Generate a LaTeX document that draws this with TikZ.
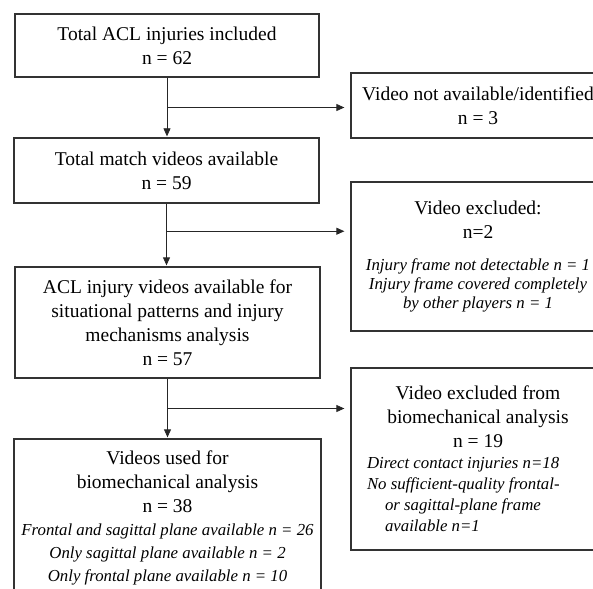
\documentclass[tikz,border=0pt]{standalone}
\usepackage{fontspec}
\setmainfont{Liberation Serif}
\usetikzlibrary{calc,arrows.meta}

\newcommand{\ital}{\itshape\fontsize{16.8}{21}\selectfont}

\tikzset{
	box/.style = {draw=black!80, line width=1.3pt, inner sep=2pt, align=center, font=\fontsize{19.5}{24}\selectfont},
	arr/.style = {-{Triangle[length=8pt,width=7pt]}, line width=0.8pt, draw=black!85}
}

\begin{document}
\begin{tikzpicture}[x=1pt, y=-1pt]
	\useasboundingbox (0,0) rectangle (593,588);
	% main column
	\node[box, minimum width=304pt, minimum height=63pt] (A) at (167,45.5) {Total ACL injuries included\\ n = 62};
	\node[box, minimum width=305pt, minimum height=65pt] (B) at (166.5,170.5) {Total match videos available\\ n = 59};
	\node[box, minimum width=305pt, minimum height=111pt] (C) at (167.5,322.5) {ACL injury videos available for\\ situational patterns and injury\\ mechanisms analysis\\ n = 57};
	\node[box, minimum width=307pt, minimum height=158pt] (D) at (167.5,518) {Videos used for\\ biomechanical analysis\\ n = 38\\[-1pt] {\ital Frontal and sagittal plane available n = 26}\\[-1pt] {\ital Only sagittal plane available n = 2}\\[-1pt] {\ital Only frontal plane available n = 10}};
	% exclusions
	\node[box, minimum width=254pt, minimum height=65pt] (R1) at (478,105.5) {Video not available/identified\\ n = 3};
	\node[box, minimum width=254pt, minimum height=149pt] (R2) at (478,256.5) {Video excluded:\\ n=2\\[8pt] \parbox[t]{236pt}{\centering\ital Injury frame not detectable n = 1\\[-2pt] Injury frame covered completely\\[-2pt] by other players n = 1}};
	\node[box, minimum width=254pt, minimum height=182pt] (R3) at (478,459) {Video excluded from\\ biomechanical analysis\\ n = 19\\[-3pt] \parbox[t]{222pt}{\raggedright\ital Direct contact injuries n=18\\ No sufficient-quality frontal-\\ \hspace*{18pt}or sagittal-plane frame\\ \hspace*{18pt}available n=1}};

	\coordinate (j1) at ($(A.south)!0.5!(A.south |- B.north)$);
	\coordinate (j2) at ($(B.south)!0.44!(B.south |- C.north)$);
	\coordinate (j3) at ($(C.south)!0.5!(C.south |- D.north)$);

	\draw[arr, shorten >=1pt] (A.south) -- (A.south |- B.north);
	\draw[arr, shorten >=1pt] (B.south) -- (B.south |- C.north);
	\draw[arr, shorten >=1pt] (C.south) -- (C.south |- D.north);
	\draw[arr, shorten >=6pt] (j1) -- (j1 -| R1.west);
	\draw[arr, shorten >=6pt] (j2) -- (j2 -| R2.west);
	\draw[arr, shorten >=6pt] (j3) -- (j3 -| R3.west);
\end{tikzpicture}
\end{document}
